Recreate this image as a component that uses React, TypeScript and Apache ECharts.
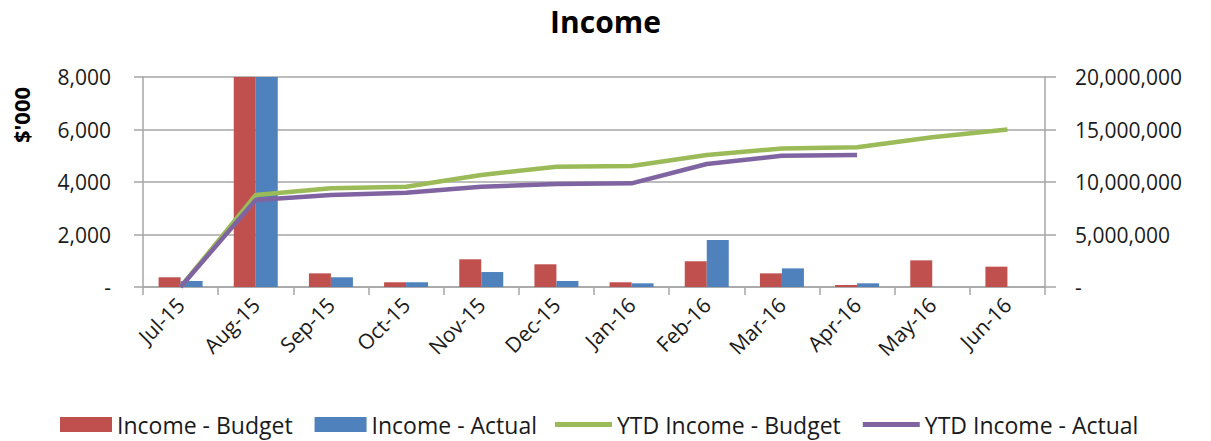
import React, { useEffect, useRef } from "react";
import * as echarts from "echarts";

const categories = ["Jul-15", "Aug-15", "Sep-15", "Oct-15", "Nov-15", "Dec-15", "Jan-16", "Feb-16", "Mar-16", "Apr-16", "May-16", "Jun-16"];
const incomeBudget = [370, 8500, 520, 180, 1055, 865, 180, 980, 520, 76, 1015, 775];
const incomeActual = [230, 8300, 370, 180, 570, 230, 140, 1790, 710, 140, null, null];
const ytdBudget = [0, 8760000, 9400000, 9550000, 10670000, 11460000, 11520000, 12570000, 13200000, 13300000, 14260000, 15000000];
const ytdActual = [0, 8290000, 8760000, 8980000, 9550000, 9810000, 9870000, 11710000, 12500000, 12570000, null, null];
const yAxisTitle = "$'000";

const FONT = "Open Sans";
const fmt = (v: number) => (v === 0 ? "-" : v.toLocaleString("en-US"));
const TXT = "#1a1a1a";
const AX = "#a6a6a6";

export default function App() {
  const ref = useRef<HTMLDivElement>(null);
  useEffect(() => {
    const chart = echarts.init(ref.current!, null, { renderer: "svg" });
    chart.setOption({
      animation: false,
      textStyle: { fontFamily: FONT },
      title: {
        text: "Income",
        left: "center",
        top: 1,
        textStyle: { fontSize: 30, fontWeight: "bold", color: "#000", fontFamily: FONT },
      },
      grid: { left: 143, right: 166, top: 77, bottom: 154 },
      legend: [
        {
          left: 55,
          bottom: 0,
          itemWidth: 52,
          itemHeight: 15,
          itemGap: 22,
          icon: "rect",
          textStyle: { fontSize: 23, color: TXT, fontFamily: FONT },
          data: ["Income - Budget", "Income - Actual"],
        },
        {
          left: 550,
          bottom: 0,
          itemWidth: 57,
          itemHeight: 5,
          itemGap: 22,
          icon: "rect",
          textStyle: { fontSize: 23, color: TXT, fontFamily: FONT },
          data: ["YTD Income - Budget", "YTD Income - Actual"],
        },
      ],
      graphic: [
        {
          type: "text",
          x: 21,
          y: 115,
          rotation: Math.PI / 2,
          style: {
            text: yAxisTitle,
            fill: "#000",
            font: "bold 22px 'Open Sans'",
            textAlign: "center",
            textVerticalAlign: "middle",
          },
        },
      ],
      xAxis: {
        type: "category",
        data: categories,
        axisLine: { lineStyle: { color: AX, width: 1.5 } },
        axisTick: { show: true, length: 8, lineStyle: { color: AX, width: 1.5 } },
        axisLabel: { rotate: 45, fontSize: 21, color: TXT, margin: 14 },
      },
      yAxis: [
        {
          type: "value",
          min: 0,
          max: 8000,
          interval: 2000,
          axisLine: { show: true, lineStyle: { color: AX, width: 1.5 } },
          axisTick: { show: true, length: 9, lineStyle: { color: AX, width: 1.5 } },
          splitLine: { lineStyle: { color: AX, width: 1.5 } },
          axisLabel: { fontSize: 21, color: TXT, margin: 32, formatter: fmt },
        },
        {
          type: "value",
          min: 0,
          max: 20000000,
          interval: 5000000,
          position: "right",
          axisLine: { show: true, lineStyle: { color: AX, width: 1.5 } },
          axisTick: { show: true, length: 11, lineStyle: { color: AX, width: 1.5 } },
          splitLine: { show: false },
          axisLabel: { fontSize: 21, color: TXT, margin: 30, formatter: fmt },
        },
      ],
      series: [
        {
          name: "Income - Budget",
          type: "bar",
          data: incomeBudget,
          barWidth: 22,
          barGap: "0%",
          clip: true,
          itemStyle: { color: "#C0504D" },
        },
        {
          name: "Income - Actual",
          type: "bar",
          data: incomeActual,
          barWidth: 22,
          barGap: "0%",
          clip: true,
          itemStyle: { color: "#4F81BD" },
        },
        {
          name: "YTD Income - Budget",
          type: "line",
          yAxisIndex: 1,
          data: ytdBudget,
          showSymbol: false,
          symbol: "none",
          lineStyle: { color: "#9BBB59", width: 4.5 },
          itemStyle: { color: "#9BBB59" },
        },
        {
          name: "YTD Income - Actual",
          type: "line",
          yAxisIndex: 1,
          data: ytdActual,
          showSymbol: false,
          symbol: "none",
          lineStyle: { color: "#8064A2", width: 4.5 },
          itemStyle: { color: "#8064A2" },
        },
      ],
    });
    return () => chart.dispose();
  }, []);
  return <div ref={ref} style={{ position: "absolute", left: 0, top: 0, width: 1211, height: 441 }} />;
}
